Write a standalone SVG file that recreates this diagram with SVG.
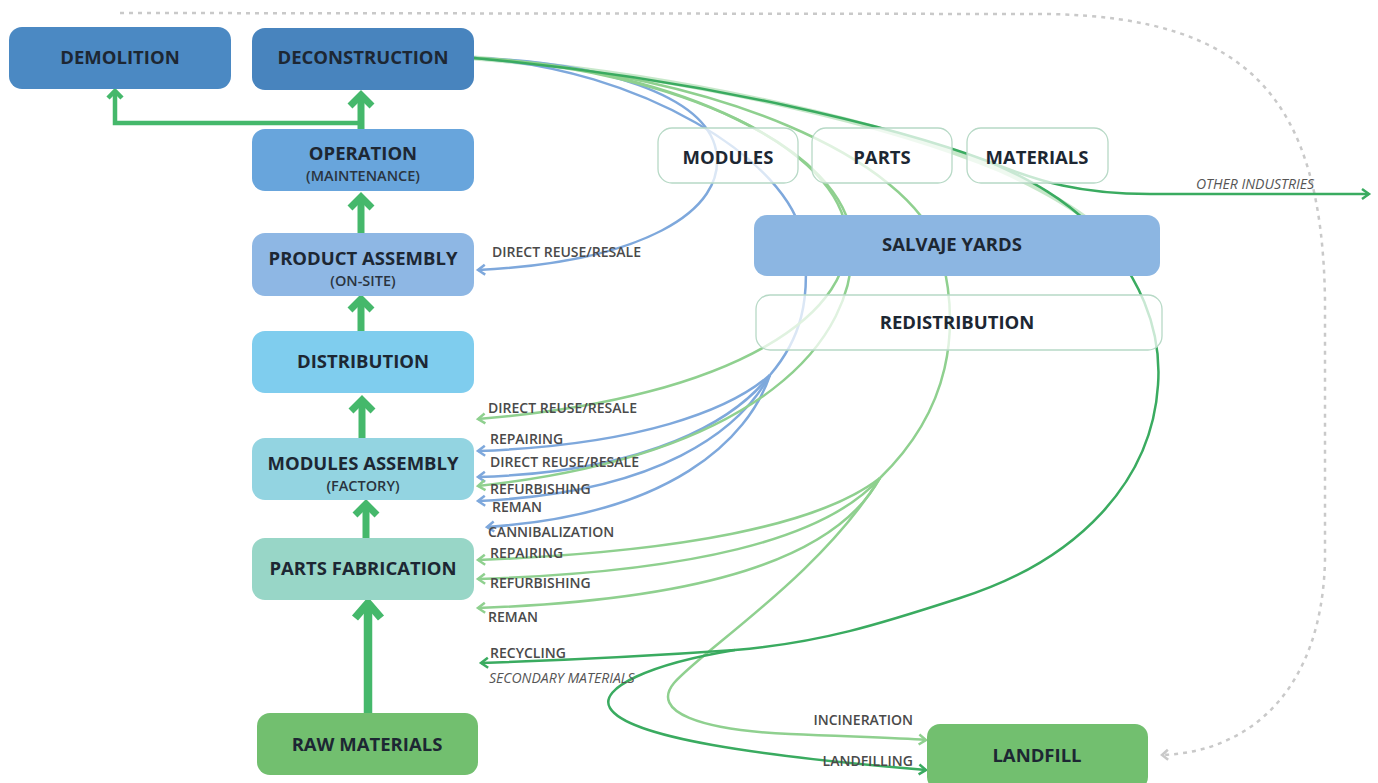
<svg xmlns="http://www.w3.org/2000/svg" xmlns:xlink="http://www.w3.org/1999/xlink" width="1378" height="783" viewBox="0 0 1378 783">
<style>
.node-t{font-family:"Open Sans","Liberation Sans",sans-serif;font-weight:700;font-size:18.5px;fill:#1d2733;text-anchor:middle}
.node-s{font-family:"Open Sans","Liberation Sans",sans-serif;font-weight:600;font-size:14.5px;fill:#2a3440;text-anchor:middle}
.lbl{font-family:"Open Sans","Liberation Sans",sans-serif;font-weight:600;font-size:14px;fill:#4a4a4a}
.ital{font-family:"Open Sans","Liberation Sans",sans-serif;font-style:italic;font-weight:400;font-size:14px;fill:#555}
.blue{fill:none;stroke:#7ea8dc;stroke-width:2.5}
.lg{fill:none;stroke:#8fd08f;stroke-width:2.5}
.dg{fill:none;stroke:#3aab60;stroke-width:2.5}
.pale{fill:none;stroke:#b9e2bd;stroke-width:5;opacity:0.8}
.flow{fill:none;stroke:#45b86b;stroke-width:7}
.ghost{fill:#ffffff;fill-opacity:0.72;stroke:#b7d9c6;stroke-width:1.3}
</style>
<defs>
<marker id="mb" markerUnits="userSpaceOnUse" markerWidth="14" markerHeight="14" viewBox="-9 -7 11 14" refX="0" refY="0" orient="auto"><path d="M-7,-5 L0,0 L-7,5" fill="none" stroke="#7ea8dc" stroke-width="2.5"/></marker>
<marker id="ml" markerUnits="userSpaceOnUse" markerWidth="14" markerHeight="14" viewBox="-9 -7 11 14" refX="0" refY="0" orient="auto"><path d="M-7,-5 L0,0 L-7,5" fill="none" stroke="#8fd08f" stroke-width="2.5"/></marker>
<marker id="md" markerUnits="userSpaceOnUse" markerWidth="14" markerHeight="14" viewBox="-9 -7 11 14" refX="0" refY="0" orient="auto"><path d="M-7,-5 L0,0 L-7,5" fill="none" stroke="#3aab60" stroke-width="2.5"/></marker>
<marker id="mg" markerUnits="userSpaceOnUse" markerWidth="14" markerHeight="14" viewBox="-9 -7 11 14" refX="0" refY="0" orient="auto"><path d="M-6,-5 L0,0 L-6,5" fill="none" stroke="#c9c9c9" stroke-width="2.5"/></marker>
<path id="chev" d="M-11,13 L0,2 L11,13" fill="none" stroke="#45b86b" stroke-width="7"/>
<path id="chevs" d="M-7,8 L0,1 L7,8" fill="none" stroke="#45b86b" stroke-width="4.5"/>
</defs>

<g id="connectors">
  <path d="M120,13 L1050,14 C1250,18 1322,100 1325,300 L1325,560 C1322,690 1250,752 1162,755" fill="none" stroke="#c9c9c9" stroke-width="2.5" stroke-dasharray="4 5" marker-end="url(#mg)"/>

  <path class="pale" d="M474,58 C700,76 900,128 1000,170 C1040,188 1070,205 1095,225"/>

  <path class="blue" d="M474,58 C600,62 705,95 716,150 C728,212 640,262 478,270" marker-end="url(#mb)"/>
  <path class="blue" d="M474,58 C640,68 790,160 803,240 C812,300 800,340 770,375"/>
  <path class="blue" d="M770,375 C730,410 640,445 478,451" marker-end="url(#mb)"/>
  <path class="blue" d="M770,375 C735,420 650,472 478,477" marker-end="url(#mb)"/>
  <path class="blue" d="M770,375 C740,430 660,493 478,501" marker-end="url(#mb)"/>
  <path class="blue" d="M770,375 C748,440 670,515 487,527" marker-end="url(#mb)"/>

  <path class="lg" d="M474,58 C660,66 830,140 846,228 C860,310 740,398 478,419" marker-end="url(#ml)"/>
  <path class="lg" d="M474,58 C680,70 845,150 852,240 C858,340 760,455 478,486" marker-end="url(#ml)"/>
  <path class="lg" d="M474,58 C720,74 908,158 940,250 C962,330 950,410 880,478"/>
  <path class="lg" d="M880,478 C820,525 680,552 478,560" marker-end="url(#ml)"/>
  <path class="lg" d="M880,478 C825,540 690,572 478,579" marker-end="url(#ml)"/>
  <path class="lg" d="M880,478 C835,560 700,600 478,608" marker-end="url(#ml)"/>
  <path class="lg" d="M880,478 C820,575 705,648 674,683 C650,712 700,730 790,734 C860,737 900,738 926,740" marker-end="url(#ml)"/>

  <path class="dg" d="M474,58 C700,78 900,128 990,162 C1040,182 1080,194 1150,194 L1369,194" marker-end="url(#md)"/>
  <path class="dg" d="M990,162 C1035,182 1065,200 1090,225 C1140,272 1162,330 1158,385 C1152,480 1080,560 960,598 C880,624 820,643 735,650"/>
  <path class="dg" d="M735,650 C650,656 570,660 481,663" marker-end="url(#md)"/>
  <path class="dg" d="M735,650 C650,664 598,688 610,708 C628,738 760,756 926,770" marker-end="url(#md)"/>

  <path class="flow" d="M361,129 L361,97"/>
  <use xlink:href="#chev" href="#chev" transform="translate(361,93)"/>
  <path d="M361,123 L115,123 L115,94" fill="none" stroke="#45b86b" stroke-width="4.5"/>
  <use xlink:href="#chevs" href="#chevs" transform="translate(115,90)"/>
  <path class="flow" d="M361,233 L361,199"/>
  <use xlink:href="#chev" href="#chev" transform="translate(361,195)"/>
  <path class="flow" d="M361,331 L361,301"/>
  <use xlink:href="#chev" href="#chev" transform="translate(361,297)"/>
  <path class="flow" d="M362,438 L362,402"/>
  <use xlink:href="#chev" href="#chev" transform="translate(362,398)"/>
  <path class="flow" d="M366,538 L366,506"/>
  <use xlink:href="#chev" href="#chev" transform="translate(366,502)"/>
  <path d="M368,713 L368,607" fill="none" stroke="#45b86b" stroke-width="8.5"/>
  <path d="M355,618 L368,603 L381,618" fill="none" stroke="#45b86b" stroke-width="8"/>
</g>

<g id="node-demolition"><rect x="9" y="27" width="222" height="62" rx="13" fill="#4b89c3"/><text class="node-t" x="120" y="64">DEMOLITION</text></g>
<g id="node-deconstruction"><rect x="252" y="28" width="222" height="62" rx="13" fill="#4884be"/><text class="node-t" x="363" y="64">DECONSTRUCTION</text></g>
<g id="node-operation"><rect x="252" y="129" width="222" height="62" rx="13" fill="#68a5dc"/><text class="node-t" x="363" y="160">OPERATION</text><text class="node-s" x="363" y="181">(MAINTENANCE)</text></g>
<g id="node-product-assembly"><rect x="252" y="233" width="222" height="63" rx="13" fill="#8eb7e4"/><text class="node-t" x="363" y="265">PRODUCT ASSEMBLY</text><text class="node-s" x="363" y="286">(ON-SITE)</text></g>
<g id="node-distribution"><rect x="252" y="331" width="222" height="62" rx="13" fill="#7fcdee"/><text class="node-t" x="363" y="368">DISTRIBUTION</text></g>
<g id="node-modules-assembly"><rect x="252" y="438" width="222" height="62" rx="13" fill="#93d4e1"/><text class="node-t" x="363" y="470">MODULES ASSEMBLY</text><text class="node-s" x="363" y="491">(FACTORY)</text></g>
<g id="node-parts-fabrication"><rect x="252" y="538" width="222" height="62" rx="13" fill="#98d6c7"/><text class="node-t" x="363" y="575">PARTS FABRICATION</text></g>
<g id="node-raw-materials"><rect x="257" y="713" width="221" height="62" rx="13" fill="#72bf6f"/><text class="node-t" x="367" y="751">RAW MATERIALS</text></g>
<g id="node-landfill"><rect x="927" y="724" width="221" height="66" rx="13" fill="#72bf6f"/><text class="node-t" x="1037" y="762">LANDFILL</text></g>
<g id="node-modules"><rect class="ghost" x="658" y="128" width="140" height="55" rx="14"/><text class="node-t" x="728" y="164">MODULES</text></g>
<g id="node-parts"><rect class="ghost" x="812" y="128" width="140" height="55" rx="14"/><text class="node-t" x="882" y="164">PARTS</text></g>
<g id="node-materials"><rect class="ghost" x="967" y="128" width="141" height="55" rx="14"/><text class="node-t" x="1037" y="164">MATERIALS</text></g>
<g id="node-salvage-yards"><rect x="754" y="215" width="406" height="61" rx="13" fill="#8cb6e2"/><text class="node-t" x="952" y="251">SALVAJE YARDS</text></g>
<g id="node-redistribution"><rect class="ghost" x="756" y="295" width="406" height="55" rx="14"/><text class="node-t" x="957" y="329">REDISTRIBUTION</text></g>

<g id="labels">
  <text class="lbl" x="492" y="257">DIRECT REUSE/RESALE</text>
  <text class="ital" x="1196" y="189">OTHER INDUSTRIES</text>
  <text class="lbl" x="488" y="413">DIRECT REUSE/RESALE</text>
  <text class="lbl" x="490" y="444">REPAIRING</text>
  <text class="lbl" x="490" y="467">DIRECT REUSE/RESALE</text>
  <text class="lbl" x="490" y="494">REFURBISHING</text>
  <text class="lbl" x="492" y="512">REMAN</text>
  <text class="lbl" x="488" y="537">CANNIBALIZATION</text>
  <text class="lbl" x="490" y="558">REPAIRING</text>
  <text class="lbl" x="490" y="588">REFURBISHING</text>
  <text class="lbl" x="488" y="622">REMAN</text>
  <text class="lbl" x="490" y="658">RECYCLING</text>
  <text class="ital" x="489" y="683">SECONDARY MATERIALS</text>
  <text class="lbl" x="913" y="725" text-anchor="end">INCINERATION</text>
  <text class="lbl" x="913" y="766" text-anchor="end">LANDFILLING</text>
</g>
</svg>
